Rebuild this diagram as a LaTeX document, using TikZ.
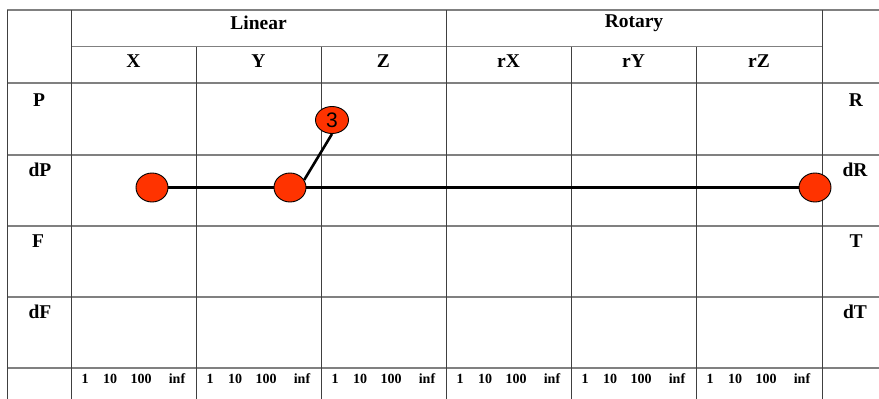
\documentclass[tikz,border=0pt]{standalone}
\usepackage{fontspec}
\setmainfont{Liberation Serif}
\newfontfamily\arialfont{Liberation Sans}
\usetikzlibrary{shapes.geometric}
\definecolor{dotred}{HTML}{FF3300}
\definecolor{hline}{HTML}{808080}
\definecolor{vline}{HTML}{404040}
\tikzset{
  hrule/.style={draw=hline, line width=1.6pt},
  vrule/.style={draw=vline, line width=0.9pt},
  lbl/.style={font=\fontsize{19.5}{19.5}\selectfont\bfseries, inner sep=0pt},
  scl/.style={font=\fontsize{14}{14}\selectfont\bfseries, inner sep=0pt},
  dot/.style={ellipse, draw=black, line width=0.9pt, fill=dotred, minimum width=32pt, minimum height=29pt, inner sep=0pt},
  tagdot/.style={ellipse, draw=black, line width=0.9pt, fill=dotred, minimum width=33pt, minimum height=27pt, inner sep=0pt, font=\arialfont\fontsize{21}{21}\selectfont},
  link/.style={draw=black, line width=2.6pt}
}
\begin{document}
\begin{tikzpicture}[x=1pt,y=-1pt]
\useasboundingbox (0,0) rectangle (879,399);
\fill[white] (0,0) rectangle (879,399);
% horizontal rules
\draw[hrule] (7,10) -- (879,10);
\draw[hrule] (71,46.5) -- (822,46.5);
\foreach \y in {83,155,226,297,368} \draw[hrule] (7,\y) -- (879,\y);
% vertical rules
\foreach \x in {7,71,446,822} \draw[vrule] (\x,10) -- (\x,399);
\foreach \x in {196,321,571,696} \draw[vrule] (\x,46.5) -- (\x,399);
% group headers
\node[lbl] (hlin) at (258.5,23) {Linear};
\node[lbl] (hrot) at (634,23) {Rotary};
% column headers
\node[lbl] (cx) at (133.5,61) {X};
\node[lbl] (cy) at (258.5,61) {Y};
\node[lbl] (cz) at (383.5,61) {Z};
\node[lbl] (crx) at (508.5,61) {rX};
\node[lbl] (cry) at (633.5,61) {rY};
\node[lbl] (crz) at (759,61) {rZ};
% row labels left
\node[lbl] (rp) at (39,100) {P};
\node[lbl] (rdp) at (40,170) {dP};
\node[lbl] (rf) at (38,241) {F};
\node[lbl] (rdf) at (40,312) {dF};
% row labels right
\node[lbl] (rr) at (856,100) {R};
\node[lbl] (rdr) at (855,170) {dR};
\node[lbl] (rt) at (856,241) {T};
\node[lbl] (rdt) at (855,312) {dT};
% scale labels
\foreach \c [count=\i] in {71,196,321,446,571,696} {
  \node[scl] (s\i a) at (\c+14,379) {1};
  \node[scl] (s\i b) at (\c+39,379) {10};
  \node[scl] (s\i c) at (\c+70,379) {100};
  \node[scl] (s\i d) at (\c+106,379) {inf};
}
% dots
\node[dot] (d1) at (152,187.5) {};
\node[dot] (d2) at (290,187.5) {};
\node[dot] (d3) at (815,187.5) {};
\node[tagdot] (n3) at (332,120) {3};
% connectors
\draw[link] (d1) -- (d2);
\draw[link] (d2) -- (d3);
\draw[link] (d2.28) -- (n3.south);
\end{tikzpicture}
\end{document}
